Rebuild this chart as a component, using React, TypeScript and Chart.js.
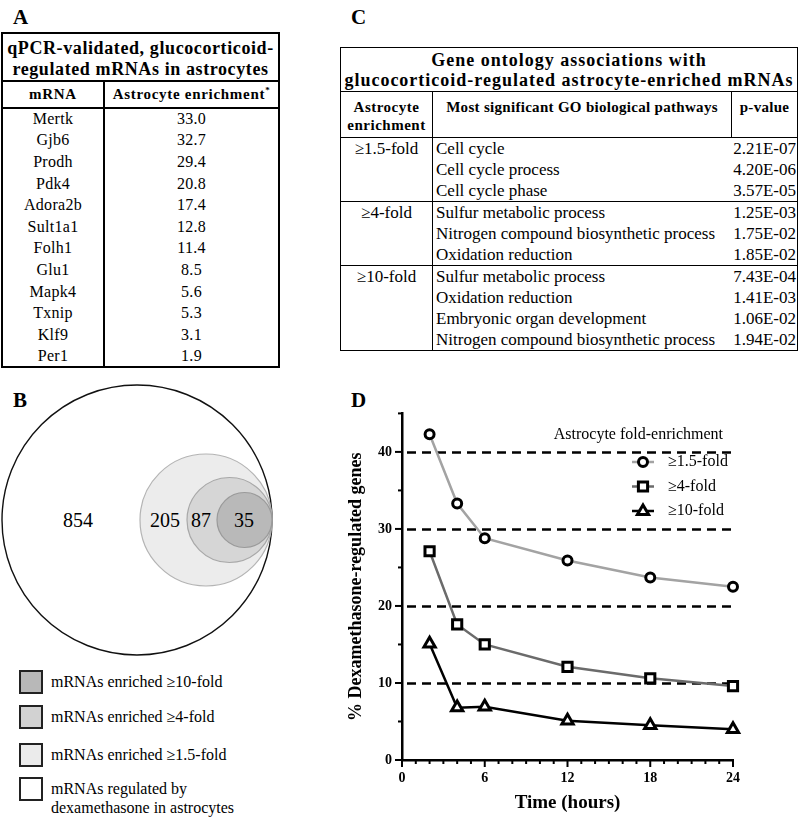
import React, { useEffect, useRef } from "react";
import { Chart, registerables } from "chart.js";

Chart.register(...registerables);

// ---------- Data ----------
const tableAGenes = ["Mertk", "Gjb6", "Prodh", "Pdk4", "Adora2b", "Sult1a1", "Folh1", "Glu1", "Mapk4", "Txnip", "Klf9", "Per1"];
const tableAEnrichment = ["33.0", "32.7", "29.4", "20.8", "17.4", "12.8", "11.4", "8.5", "5.6", "5.3", "3.1", "1.9"];

const goGroups = ["≥1.5-fold", "≥4-fold", "≥10-fold"];
const goPathways1 = ["Cell cycle", "Cell cycle process", "Cell cycle phase"];
const goPvalues1 = ["2.21E-07", "4.20E-06", "3.57E-05"];
const goPathways2 = ["Sulfur metabolic process", "Nitrogen compound biosynthetic process", "Oxidation reduction"];
const goPvalues2 = ["1.25E-03", "1.75E-02", "1.85E-02"];
const goPathways3 = ["Sulfur metabolic process", "Oxidation reduction", "Embryonic organ development", "Nitrogen compound biosynthetic process"];
const goPvalues3 = ["7.43E-04", "1.41E-03", "1.06E-02", "1.94E-02"];

const vennCounts = ["854", "205", "87", "35"];
const vennLegend = ["mRNAs enriched ≥10-fold", "mRNAs enriched ≥4-fold", "mRNAs enriched ≥1.5-fold", "mRNAs regulated by dexamethasone in astrocytes"];

const timeHours = [2, 4, 6, 12, 18, 24];
const fold15 = [42.3, 33.3, 28.8, 25.9, 23.7, 22.5];
const fold4 = [27.1, 17.6, 15.0, 12.1, 10.6, 9.6];
const fold10 = [15.1, 6.8, 6.9, 5.1, 4.5, 4.0];
const seriesLabels = ["≥1.5-fold", "≥4-fold", "≥10-fold"];
const refLines = [10, 20, 30, 40];
const legendTitle = "Astrocyte fold-enrichment";

const SERIF = "'Liberation Serif', 'Times New Roman', Times, serif";

// ---------- Chart ----------
const refLinePlugin = {
  id: "refLines",
  beforeDatasetsDraw(chart: any) {
    const { ctx, chartArea, scales } = chart;
    ctx.save();
    ctx.strokeStyle = "#000";
    ctx.lineWidth = 2.5;
    ctx.setLineDash([9, 6]);
    refLines.forEach((v) => {
      const y = Math.round(scales.y.getPixelForValue(v)) + 0.5;
      ctx.beginPath();
      ctx.moveTo(chartArea.left + 5, y);
      ctx.lineTo(chartArea.right + 2, y);
      ctx.stroke();
    });
    ctx.restore();
  },
  afterDraw(chart: any) {
    const { ctx, chartArea, scales } = chart;
    ctx.save();
    ctx.strokeStyle = "#000";
    ctx.lineWidth = 2;
    for (let v = 0; v <= 24; v += 1) {
      const x = scales.x.getPixelForValue(v);
      const len = v % 6 === 0 ? 7 : 4;
      ctx.beginPath();
      ctx.moveTo(x, chartArea.bottom);
      ctx.lineTo(x, chartArea.bottom + len);
      ctx.stroke();
    }
    for (let v = 0; v <= 45; v += 5) {
      const y = scales.y.getPixelForValue(v);
      const len = v % 10 === 0 ? 7 : 4;
      ctx.beginPath();
      ctx.moveTo(chartArea.left, y);
      ctx.lineTo(chartArea.left - len, y);
      ctx.stroke();
    }
    // legend
    ctx.fillStyle = "#000";
    ctx.font = `16px ${SERIF}`;
    ctx.textAlign = "right";
    ctx.textBaseline = "middle";
    ctx.fillText(legendTitle, chartArea.right - 10, 40);
    const ds = chart.data.datasets;
    const styles = ["circle", "rect", "triangle"];
    for (let i = 0; i < 3; i++) {
      const y = 67 + i * 24.5;
      const cx = 313;
      ctx.strokeStyle = ds[i].borderColor;
      ctx.lineWidth = 2.5;
      ctx.beginPath();
      ctx.moveTo(cx - 11, y);
      ctx.lineTo(cx + 11, y);
      ctx.stroke();
      ctx.strokeStyle = "#000";
      ctx.fillStyle = "#fff";
      ctx.lineWidth = 3;
      ctx.beginPath();
      if (styles[i] === "circle") {
        ctx.arc(cx, y, 4.5, 0, Math.PI * 2);
      } else if (styles[i] === "rect") {
        ctx.rect(cx - 4.6, y - 4.6, 9.2, 9.2);
      } else {
        ctx.moveTo(cx, y - 6);
        ctx.lineTo(cx + 5.6, y + 3.5);
        ctx.lineTo(cx - 5.6, y + 3.5);
        ctx.closePath();
      }
      ctx.fill();
      ctx.stroke();
      ctx.fillStyle = "#000";
      ctx.textAlign = "left";
      ctx.fillText(seriesLabels[i], 338, y);
    }
    ctx.restore();
  },
};

function ChartD() {
  const ref = useRef<HTMLCanvasElement | null>(null);
  useEffect(() => {
    if (!ref.current) return;
    const mk = (vals: number[]) => timeHours.map((t, i) => ({ x: t, y: vals[i] }));
    const common = { borderWidth: 2.5, pointBorderWidth: 3, pointBorderColor: "#000", pointBackgroundColor: "#fff", tension: 0, clip: false };
    const chart = new Chart(ref.current, {
      type: "line",
      data: {
        datasets: [
          { ...common, label: seriesLabels[0], data: mk(fold15), borderColor: "#a3a3a3", pointStyle: "circle", pointRadius: 4.5 },
          { ...common, label: seriesLabels[1], data: mk(fold4), borderColor: "#6b6b6b", pointStyle: "rect", pointRadius: 6.5 },
          { ...common, label: seriesLabels[2], data: mk(fold10), borderColor: "#000", pointStyle: "triangle", pointRadius: 6.5 },
        ],
      },
      options: {
        animation: false,
        responsive: false,
        layout: { padding: { top: 13, right: 65, left: 0, bottom: 0 } },
        plugins: { legend: { display: false }, tooltip: { enabled: false } },
        scales: {
          x: {
            type: "linear",
            min: 0,
            max: 24,
            afterFit: (s: any) => { s.height = 58; },
            grid: { display: true, drawOnChartArea: false, drawTicks: false },
            border: { display: true, color: "#000", width: 2.5 },
            ticks: {
              stepSize: 1,
              autoSkip: false,
              maxRotation: 0,
              padding: 10,
              color: "#000",
              font: { family: SERIF, size: 14, weight: "bold" },
              callback: (v: any) => (Number(v) % 6 === 0 ? String(v) : ""),
            },
            title: { display: true, text: "Time (hours)", color: "#000", font: { family: SERIF, size: 19, weight: "bold" }, padding: { top: 4, bottom: 4 } },
          },
          y: {
            type: "linear",
            min: 0,
            max: 45,
            afterFit: (s: any) => { s.width = 72; },
            grid: { display: true, drawOnChartArea: false, drawTicks: false },
            border: { display: true, color: "#000", width: 2.5 },
            ticks: {
              stepSize: 5,
              autoSkip: false,
              padding: 10,
              color: "#000",
              font: { family: SERIF, size: 14, weight: "bold" },
              callback: (v: any) => (Number(v) % 10 === 0 ? String(v) : ""),
            },
            title: { display: true, text: "% Dexamethasone-regulated genes", color: "#000", font: { family: SERIF, size: 18, weight: "bold" }, padding: { top: 16, bottom: 0 } },
          },
        },
      },
      plugins: [refLinePlugin],
    } as any);
    return () => chart.destroy();
  }, []);
  return <canvas ref={ref} width={468} height={423} style={{ position: "absolute", left: 330, top: 395, width: 468, height: 423 }} />;
}

// ---------- Tables ----------
const cellBase: React.CSSProperties = { padding: 0, fontFamily: SERIF, color: "#000", boxSizing: "border-box" };

function TableA() {
  return (
    <table style={{ position: "absolute", left: 1, top: 32, width: 277, borderCollapse: "collapse", tableLayout: "fixed", border: "2px solid #000" }}>
      <colgroup><col style={{ width: 102 }} /><col style={{ width: 175 }} /></colgroup>
      <tbody>
        <tr style={{ height: 48 }}>
          <td colSpan={2} style={{ ...cellBase, textAlign: "center", fontWeight: "bold", fontSize: 18, letterSpacing: 0.6, lineHeight: "21px", borderBottom: "2px solid #000", paddingTop: 3, whiteSpace: "nowrap" }}>
            qPCR-validated, glucocorticoid-<br />regulated mRNAs in astrocytes
          </td>
        </tr>
        <tr style={{ height: 27 }}>
          <td style={{ ...cellBase, textAlign: "center", fontWeight: "bold", fontSize: 15, letterSpacing: 0.7, borderRight: "2px solid #000", borderBottom: "2px solid #000" }}>mRNA</td>
          <td style={{ ...cellBase, textAlign: "center", fontWeight: "bold", fontSize: 15, letterSpacing: 0.7, borderBottom: "2px solid #000", whiteSpace: "nowrap" }}>
            Astrocyte enrichment<sup style={{ fontSize: 9, lineHeight: 0 }}>*</sup>
          </td>
        </tr>
        {tableAGenes.map((g, i) => (
          <tr key={g} style={{ height: 21.6 }}>
            <td style={{ ...cellBase, textAlign: "center", fontSize: 16, lineHeight: "20px", letterSpacing: 0.3, borderRight: "2px solid #000" }}>{g}</td>
            <td style={{ ...cellBase, textAlign: "center", fontSize: 16, lineHeight: "20px", letterSpacing: 0.3 }}>{tableAEnrichment[i]}</td>
          </tr>
        ))}
      </tbody>
    </table>
  );
}

function TableC() {
  const groups = [
    { label: goGroups[0], paths: goPathways1, ps: goPvalues1 },
    { label: goGroups[1], paths: goPathways2, ps: goPvalues2 },
    { label: goGroups[2], paths: goPathways3, ps: goPvalues3 },
  ];
  const b = "1.5px solid #000";
  return (
    <table style={{ position: "absolute", left: 340, top: 47, width: 457, borderCollapse: "collapse", tableLayout: "fixed", border: b }}>
      <colgroup><col style={{ width: 92 }} /><col style={{ width: 299 }} /><col style={{ width: 66 }} /></colgroup>
      <tbody>
        <tr style={{ height: 44 }}>
          <td colSpan={3} style={{ ...cellBase, textAlign: "center", fontWeight: "bold", fontSize: 18, letterSpacing: 1, lineHeight: "20px", borderBottom: b, whiteSpace: "nowrap" }}>
            Gene ontology associations with<br />glucocorticoid-regulated astrocyte-enriched mRNAs
          </td>
        </tr>
        <tr style={{ height: 46 }}>
          <td style={{ ...cellBase, textAlign: "center", verticalAlign: "top", fontWeight: "bold", fontSize: 15, letterSpacing: 0.5, lineHeight: "18px", borderRight: b, borderBottom: b, paddingTop: 6 }}>Astrocyte<br />enrichment</td>
          <td style={{ ...cellBase, textAlign: "center", verticalAlign: "top", fontWeight: "bold", fontSize: 15, letterSpacing: 0.3, lineHeight: "18px", borderRight: b, borderBottom: b, paddingTop: 6, whiteSpace: "nowrap" }}>Most significant GO biological pathways</td>
          <td style={{ ...cellBase, textAlign: "center", verticalAlign: "top", fontWeight: "bold", fontSize: 15, letterSpacing: 0.3, lineHeight: "18px", borderBottom: b, paddingTop: 6 }}>p-value</td>
        </tr>
        {groups.map((g) =>
          g.paths.map((p, i) => (
            <tr key={g.label + i} style={{ height: 21 }}>
              {i === 0 && (
                <td rowSpan={g.paths.length} style={{ ...cellBase, textAlign: "center", verticalAlign: "top", fontSize: 17, lineHeight: "21px", borderRight: b, borderBottom: b }}>{g.label}</td>
              )}
              <td colSpan={2} style={{ ...cellBase, fontSize: 17, lineHeight: "21px", paddingLeft: 3, paddingRight: 1, borderBottom: i === g.paths.length - 1 ? b : "none" }}>
                <div style={{ display: "flex", justifyContent: "space-between", whiteSpace: "nowrap" }}>
                  <span>{p}</span>
                  <span>{g.ps[i]}</span>
                </div>
              </td>
            </tr>
          ))
        )}
      </tbody>
    </table>
  );
}

function VennB() {
  const legendFills = ["#b8b8b8", "#d2d2d2", "#ebebeb", "#ffffff"];
  return (
    <>
      <svg style={{ position: "absolute", left: 0, top: 380 }} width={280} height={282}>
        <circle cx={137} cy={140} r={135} fill="#fff" stroke="#111" strokeWidth={1.4} />
        <circle cx={206} cy={140} r={66} fill="#ececec" stroke="#b4b4b4" strokeWidth={1.2} />
        <circle cx={229.5} cy={140} r={42.5} fill="#d6d6d6" stroke="#a8a8a8" strokeWidth={1.2} />
        <circle cx={244.5} cy={140} r={27.5} fill="#b9b9b9" stroke="#9a9a9a" strokeWidth={1.2} />
        <g fontFamily={SERIF} fontSize={20} fill="#000" textAnchor="middle" dominantBaseline="central">
          <text x={78} y={140}>{vennCounts[0]}</text>
          <text x={165} y={140}>{vennCounts[1]}</text>
          <text x={201} y={140}>{vennCounts[2]}</text>
          <text x={244} y={140}>{vennCounts[3]}</text>
        </g>
      </svg>
      {vennLegend.map((t, i) => {
        const tops = [670, 705, 743, 777];
        return (
          <div key={t} style={{ position: "absolute", left: 19, top: tops[i] }}>
            <div style={{ position: "absolute", left: 0, top: 0, width: 20, height: 20, background: legendFills[i], border: "2px solid #222" }} />
            <div style={{ position: "absolute", left: 32, top: 2, width: 240, fontFamily: SERIF, fontSize: 16, lineHeight: "19px", color: "#000", whiteSpace: "nowrap" }}>
              {i === 3 ? (<>mRNAs regulated by<br />dexamethasone in astrocytes</>) : t}
            </div>
          </div>
        );
      })}
    </>
  );
}

const letterStyle: React.CSSProperties = { position: "absolute", fontFamily: SERIF, fontWeight: "bold", fontSize: 21, lineHeight: "24px", color: "#000" };

export default function App() {
  return (
    <div style={{ position: "absolute", left: 0, top: 0, width: 798, height: 818, background: "#fff", overflow: "hidden" }}>
      <div style={{ ...letterStyle, left: 13, top: 5 }}>A</div>
      <div style={{ ...letterStyle, left: 351, top: 5 }}>C</div>
      <div style={{ ...letterStyle, left: 13, top: 388 }}>B</div>
      <div style={{ ...letterStyle, left: 351, top: 388 }}>D</div>
      <TableA />
      <TableC />
      <VennB />
      <ChartD />
    </div>
  );
}
